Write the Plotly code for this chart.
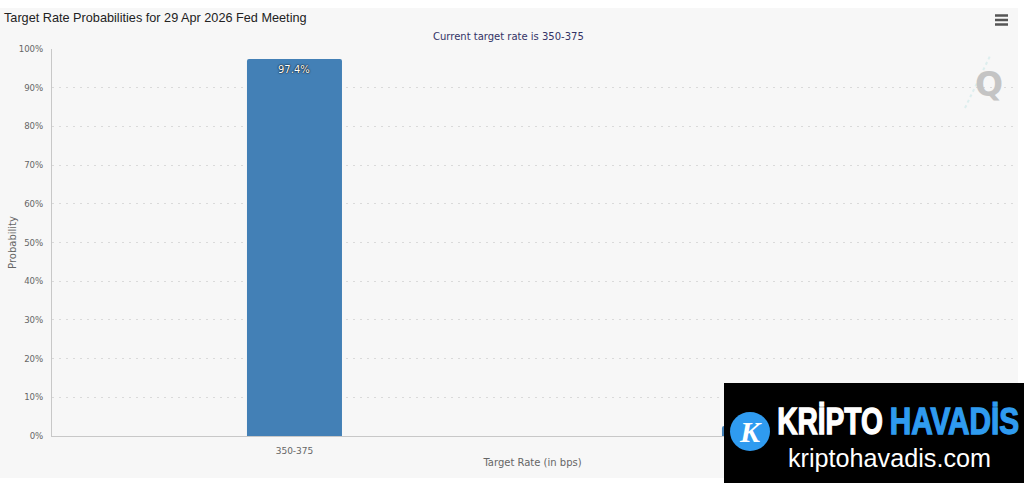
import plotly.graph_objects as go

categories = ["350-375", "375-400"]
probabilities = [97.4, 2.6]
value_label = "97.4%"
y_ticks = [0, 10, 20, 30, 40, 50, 60, 70, 80, 90, 100]
y_tick_labels = ["0%", "10%", "20%", "30%", "40%", "50%", "60%", "70%", "80%", "90%", "100%"]

W, H = 1024, 483
L, R, T, B = 52, 11, 49, 47
PW, PH = W - L - R, H - T - B
def px(x): return (x - L) / PW
def py(y): return 1 - (y - T) / PH

fig = go.Figure(go.Bar(
    x=categories, y=probabilities, width=0.2,
    marker=dict(color="#4380B6", cornerradius=2, line_width=0),
    hoverinfo="skip", showlegend=False,
))

def rect(x0, y0, x1, y1, color, layer="above"):
    return dict(type="rect", xref="paper", yref="paper", x0=px(x0), x1=px(x1),
                y0=py(y0), y1=py(y1), fillcolor=color, line_width=0, layer=layer)

shapes = [rect(0, 8, 1018, 478, "#F7F7F7", "below")]
for y in (15.5, 20, 24.5):
    shapes.append(dict(type="line", xref="paper", yref="paper", x0=px(995), x1=px(1008),
                       y0=py(y), y1=py(y), line=dict(color="#555555", width=2.5)))
shapes.append(dict(type="line", xref="paper", yref="paper", x0=px(965), x1=px(990),
                   y0=py(108), y1=py(56), line=dict(color="#DDEEEE", width=2, dash="dot")))
shapes.append(rect(724, 383, 1024, 483, "#000000"))
shapes.append(dict(type="circle", xref="paper", yref="paper", x0=px(730), x1=px(770),
                   y0=py(412), y1=py(451), fillcolor="#2F9BF0", line_width=0))

def note(x, y, text, size, color, family="DejaVu Sans", anchor="center", **kw):
    return dict(xref="paper", yref="paper", x=px(x), y=py(y), text=text, showarrow=False,
                xanchor=anchor, yanchor="middle", font=dict(size=size, color=color, family=family), **kw)

annotations = [
    note(2, 18, "Target Rate Probabilities for 29 Apr 2026 Fed Meeting", 12.7, "#222222",
         "Liberation Sans", "left"),
    note(508, 36, "Current target rate is 350-375", 10, "#333366"),
    note(989, 84, "<b>Q</b>", 33, "#C4C4C4", "DejaVu Sans"),
    note(750, 431, "<b><i>K</i></b>", 30, "#FFFFFF", "Liberation Serif"),
    note(830, 421, "<b>KRİPTO</b>", 25, "#FFFFFF", "Liberation Sans"),
    note(954, 421, "<b>HAVADİS</b>", 25, "#2F9BF0", "Liberation Sans"),
    note(889.5, 458, "kriptohavadis.com", 25.2, "#FFFFFF", "Liberation Sans"),
    dict(xref="x", yref="y", x=categories[0], y=probabilities[0], yshift=-10,
         text=value_label, showarrow=False, xanchor="center", yanchor="middle",
         font=dict(family="DejaVu Sans", size=10, color="#FFFFFF",
                   shadow="0px 0px 1px #000000, 0px 0px 2px #000000")),
]

fig.update_layout(
    width=W, height=H, autosize=False,
    margin=dict(l=L, r=R, t=T, b=B, pad=0, autoexpand=False),
    paper_bgcolor="#FFFFFF", plot_bgcolor="rgba(0,0,0,0)",
    font=dict(family="DejaVu Sans", size=9, color="#666666"),
    shapes=shapes, annotations=annotations, showlegend=False,
    xaxis=dict(type="category", range=[-0.5105, 1.5127], showgrid=False, showline=True,
               linecolor="#C8C8C8", linewidth=1, ticks="outside", ticklen=6,
               tickcolor="rgba(0,0,0,0)", tickfont=dict(size=9, color="#666666"), automargin=False,
               title=dict(text="Target Rate (in bps)", font=dict(size=10, color="#666666"), standoff=4)),
    yaxis=dict(range=[0, 100], tickmode="array", tickvals=y_ticks, ticktext=y_tick_labels, showgrid=True,
               gridcolor="#DADADA", gridwidth=1, griddash="2px,5px", showline=True,
               linecolor="#C8C8C8", linewidth=1, ticks="outside", ticklen=6,
               tickcolor="rgba(0,0,0,0)", zeroline=False, automargin=False,
               tickfont=dict(size=8.6, color="#666666"),
               title=dict(text="Probability", font=dict(size=10, color="#666666"), standoff=0)),
)

# The banner's brand words are in a tall condensed face; stretch the real text to fit.
post = """
document.body.style.margin='0';document.body.style.overflow='hidden';
document.querySelectorAll('.annotation-text').forEach(function(t){
  var m=/KR/.test(t.textContent)?1.125:(/HAVAD/.test(t.textContent)?1.19:0);
  if(m){
    t.style.transformBox='fill-box';t.style.transformOrigin='center';t.style.transform='scale('+m+',1.5)';
    t.style.stroke=t.style.fill;t.style.strokeWidth='0.9px';
  }
});
"""
fig.write_html("out.html", config=dict(displayModeBar=False), post_script=post)
